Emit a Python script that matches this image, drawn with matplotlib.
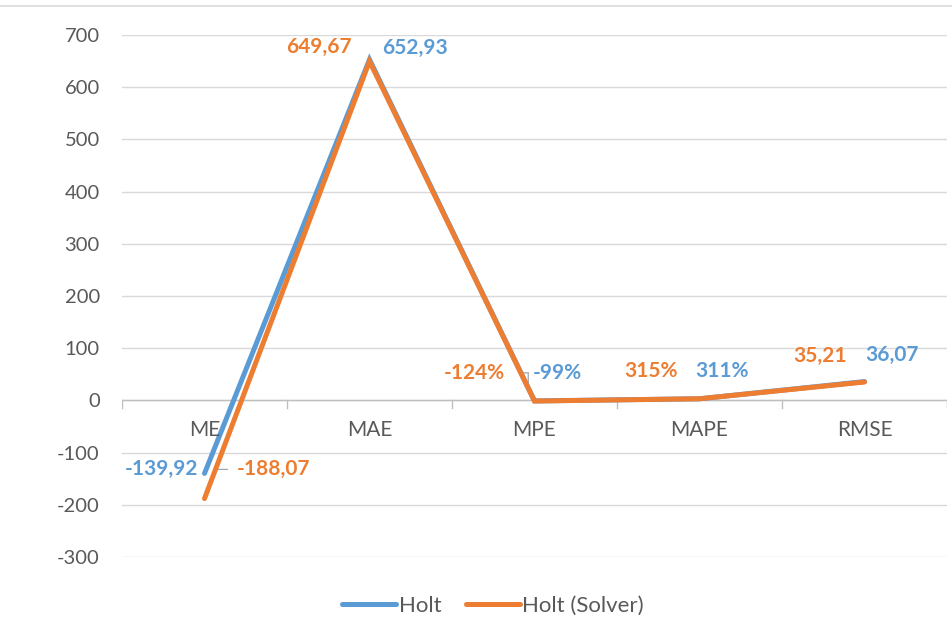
import matplotlib
matplotlib.use("Agg")
import matplotlib.pyplot as plt
from matplotlib.lines import Line2D
from matplotlib.transforms import offset_copy

categories = ["ME", "MAE", "MPE", "MAPE", "RMSE"]
holt = [-139.92, 652.93, -0.99, 3.11, 36.07]
holt_solver = [-188.07, 649.67, -1.24, 3.15, 35.21]
holt_labels = ["-139,92", "652,93", "-99%", "311%", "36,07"]
solver_labels = ["-188,07", "649,67", "-124%", "315%", "35,21"]
yticks = [-300, -200, -100, 0, 100, 200, 300, 400, 500, 600, 700]

BLUE = "#5B9BD5"
ORANGE = "#ED7D31"
GRID = "#D9D9D9"
TXT = "#595959"
LEAD = "#A6A6A6"

plt.rcParams['font.family'] = ['Lato', 'DejaVu Sans']

fig = plt.figure(figsize=(9.52, 6.18), dpi=100)
ax = fig.add_axes([122/952, 1-557/618, 825/952, (557-35)/618])

x = list(range(len(categories)))
ax.plot(x, holt, color=BLUE, lw=3.6, solid_capstyle='round', solid_joinstyle='miter', zorder=3)
ax.plot(x, holt_solver, color=ORANGE, lw=3.6, solid_capstyle='round', solid_joinstyle='miter', zorder=4)

ax.set_xlim(-0.5, 4.5)
ax.set_ylim(-300, 700)
ax.set_yticks(yticks)
ax.set_yticklabels([str(v) for v in yticks], color=TXT, fontsize=14.5)
ax.tick_params(axis='y', length=0, pad=16)
for s in ax.spines.values():
    s.set_visible(False)
ax.grid(axis='y', color=GRID, lw=1)
ax.set_axisbelow(True)
ax.set_xticks([])

# horizontal axis at zero with tick marks between categories
ax.axhline(0, color="#BFBFBF", lw=1, zorder=1)
for b in [i + 0.5 for i in range(-1, len(categories))]:
    ax.plot([b, b], [0, -15], color="#BFBFBF", lw=1, zorder=1)
for i, c in enumerate(categories):
    ax.annotate(c, (i, 0), xytext=(0, -21), textcoords='offset points',
                ha='center', va='center', color=TXT, fontsize=15)

lab_kw = dict(textcoords='offset points', fontsize=15, fontweight='bold', va='center')
# ME
ax.annotate(holt_labels[0], (0, holt[0]), xytext=(-4.3, 3), ha='right', color=BLUE, **lab_kw)
ax.annotate(solver_labels[0], (0, holt_solver[0]), xytext=(23, 21), ha='left', color=ORANGE, **lab_kw)
# MAE
ax.annotate(solver_labels[1], (1, holt_solver[1]), xytext=(-13, 10.5), ha='right', color=ORANGE, **lab_kw)
ax.annotate(holt_labels[1], (1, holt[1]), xytext=(9.4, 8), ha='left', color=BLUE, **lab_kw)
# MPE
ax.annotate(solver_labels[2], (2, holt_solver[2]), xytext=(-21.6, 20), ha='right', color=ORANGE, **lab_kw)
ax.annotate(holt_labels[2], (2, holt[2]), xytext=(-1.5, 20), ha='left', color=BLUE, **lab_kw)
# MAPE
ax.annotate(solver_labels[3], (3, holt_solver[3]), xytext=(-35, 20), ha='center', color=ORANGE, **lab_kw)
ax.annotate(holt_labels[3], (3, holt[3]), xytext=(16, 20), ha='center', color=BLUE, **lab_kw)
# RMSE
ax.annotate(solver_labels[4], (4, holt_solver[4]), xytext=(-32, 19), ha='center', color=ORANGE, **lab_kw)
ax.annotate(holt_labels[4], (4, holt[4]), xytext=(19.5, 19), ha='center', color=BLUE, **lab_kw)

# leader lines (offsets in points relative to the data point)
def leader(xi, yi, pts):
    for (x0, y0), (x1, y1) in zip(pts[:-1], pts[1:]):
        t = offset_copy(ax.transData, fig=fig, x=x0, y=y0, units='points')
        ax.annotate("", xy=(xi, yi), xycoords=t, xytext=(x1 - x0, y1 - y0), textcoords='offset points',
                    arrowprops=dict(arrowstyle='-', color=LEAD, lw=0.9, shrinkA=0, shrinkB=0), zorder=2)

leader(0, holt_solver[0], [(7.2, 21), (16.6, 21)])
leader(2, holt[2], [(-10.8, 20.2), (-4.5, 20.2), (-4.5, 12.2)])

leg = fig.legend(handles=[Line2D([], [], color=BLUE, lw=3.6, solid_capstyle='round'),
                          Line2D([], [], color=ORANGE, lw=3.6, solid_capstyle='round')],
                 labels=["Holt", "Holt (Solver)"], loc='center', bbox_to_anchor=(493/952, 1-606/618),
                 ncol=2, frameon=False, fontsize=16, handlelength=2.45, handletextpad=0.1,
                 columnspacing=1.1)
for t in leg.get_texts():
    t.set_color(TXT)

# chart area top border
fig.add_artist(Line2D([0, 1], [1-6/618, 1-6/618], color="#D9D9D9", lw=1.2, transform=fig.transFigure))

fig.savefig("out.png", dpi=100)
